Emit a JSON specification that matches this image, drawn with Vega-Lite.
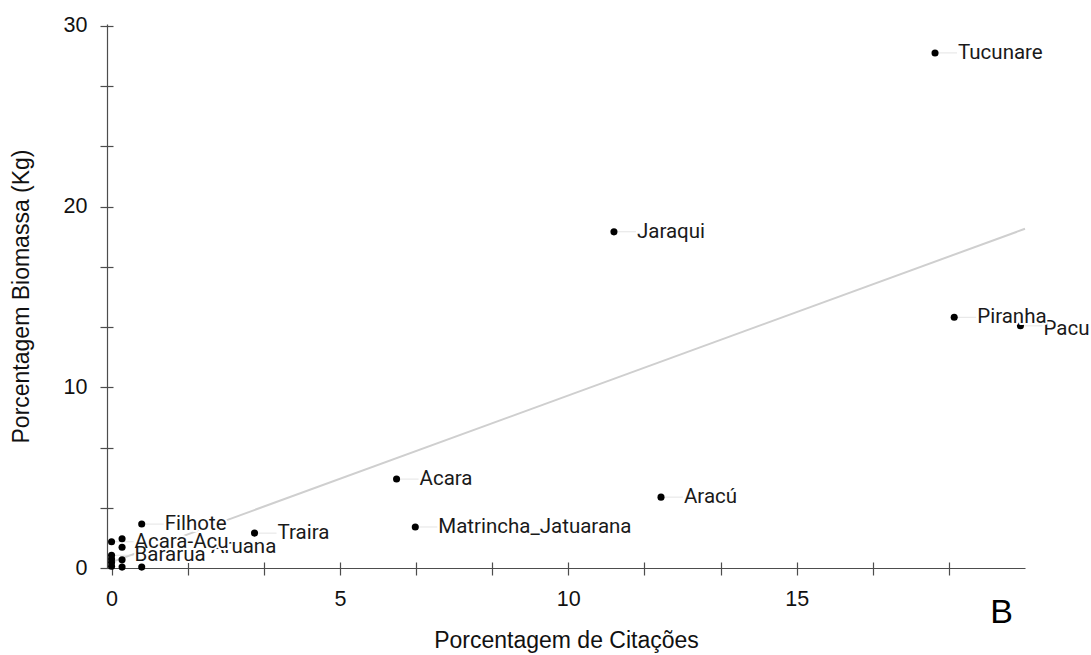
{
  "$schema": "https://vega.github.io/schema/vega-lite/v6.json",
  "width": 918,
  "height": 544,
  "autosize": "none",
  "padding": {"left": 107, "top": 24, "right": 66, "bottom": 87},
  "background": "white",
  "config": {
    "view": {"stroke": null},
    "axis": {
      "domainColor": "#4d4d4d",
      "domainWidth": 1.2,
      "tickColor": "#4d4d4d",
      "tickWidth": 1.2,
      "labelFont": "Liberation Sans",
      "labelFontSize": 21.5,
      "labelColor": "#111",
      "titleFont": "Liberation Sans",
      "titleFontSize": 23,
      "titleFontWeight": "normal",
      "titleColor": "#111",
      "grid": false
    }
  },
  "data": {
    "values": [
      {"nome": "Tucunare", "cit": 18.03, "bio": 28.5},
      {"nome": "Jaraqui", "cit": 11.0, "bio": 18.6},
      {"nome": "Piranha", "cit": 18.45, "bio": 13.87},
      {"nome": "Pacu", "cit": 19.9, "bio": 13.4},
      {"nome": "Acara", "cit": 6.24, "bio": 4.92},
      {"nome": "Aracú", "cit": 12.03, "bio": 3.92},
      {"nome": "Matrincha_Jatuarana", "cit": 6.65, "bio": 2.27},
      {"nome": "Traira", "cit": 3.13, "bio": 1.93},
      {"nome": "Filhote", "cit": 0.66, "bio": 2.43},
      {"nome": "", "cit": 0.23, "bio": 1.62},
      {"nome": "Acara-Acu", "cit": 0.0, "bio": 1.45},
      {"nome": "Aruana", "cit": 0.23, "bio": 1.15},
      {"nome": "Bararua", "cit": 0.0, "bio": 0.7},
      {"nome": "", "cit": 0.0, "bio": 0.5},
      {"nome": "", "cit": 0.0, "bio": 0.3},
      {"nome": "", "cit": 0.0, "bio": 0.1},
      {"nome": "", "cit": 0.23, "bio": 0.45},
      {"nome": "", "cit": 0.23, "bio": 0.05},
      {"nome": "", "cit": 0.66, "bio": 0.05}
    ]
  },
  "resolve": {"axis": {"x": "independent", "y": "independent"}},
  "layer": [
    {
      "transform": [{"regression": "bio", "on": "cit", "extent": [0, 20]}],
      "mark": {"type": "line", "color": "#cfcfcf", "strokeWidth": 2},
      "encoding": {
        "x": {"field": "cit", "type": "quantitative", "scale": {"domain": [-0.1, 20], "nice": false, "zero": false}, "axis": null},
        "y": {"field": "bio", "type": "quantitative", "scale": {"domain": [0, 30.1], "nice": false, "zero": false}, "axis": null}
      }
    },
    {
      "transform": [{"filter": "datum.nome != '' && datum.nome != 'Aruana'"}],
      "mark": {"type": "tick", "orient": "horizontal", "size": 20, "thickness": 1, "xOffset": 12, "color": "#d9d9d9"},
      "encoding": {
        "x": {"field": "cit", "type": "quantitative",
          "axis": {"orient": "bottom", "tickSize": -6, "labels": false, "domain": false, "title": null,
            "values": [0, 1.6667, 3.3333, 5, 6.6667, 8.3333, 10, 11.6667, 13.3333, 15, 16.6667, 18.3333]}},
        "y": {"field": "bio", "type": "quantitative",
          "axis": {"orient": "left", "tickSize": -6, "labels": false, "domain": false, "title": null,
            "values": [0, 3.3333, 6.6667, 10, 13.3333, 16.6667, 20, 23.3333, 26.6667, 30]}}
      }
    },
    {
      "mark": {"type": "circle", "size": 50, "color": "#000", "opacity": 1},
      "encoding": {
        "x": {"field": "cit", "type": "quantitative",
          "axis": {"orient": "bottom", "tickSize": 7, "labelPadding": 13, "title": "Porcentagem de Citações", "titlePadding": 20,
            "values": [0, 1.6667, 3.3333, 5, 6.6667, 8.3333, 10, 11.6667, 13.3333, 15, 16.6667, 18.3333],
            "labelExpr": "abs(datum.value % 5) < 0.01 ? datum.label : ''"}},
        "y": {"field": "bio", "type": "quantitative",
          "axis": {"orient": "left", "tickSize": 7, "labelPadding": 13, "title": "Porcentagem Biomassa (Kg)", "titlePadding": 30,
            "values": [0, 3.3333, 6.6667, 10, 13.3333, 16.6667, 20, 23.3333, 26.6667, 30],
            "labelExpr": "abs(datum.value % 10) < 0.01 ? datum.label : ''"}}
      }
    },
    {
      "transform": [{"filter": "datum.nome == 'Pacu'"}],
      "mark": {"type": "text", "align": "left", "baseline": "middle", "dx": 23, "dy": 3, "font": "Roboto", "fontSize": 20.5, "color": "#1a1a1a"},
      "encoding": {
        "x": {"field": "cit", "type": "quantitative", "axis": null},
        "y": {"field": "bio", "type": "quantitative", "axis": null},
        "text": {"field": "nome"}
      }
    },
    {
      "transform": [{"filter": "datum.nome == 'Aruana'"}],
      "mark": {"type": "text", "align": "left", "baseline": "middle", "dx": 89, "font": "Roboto", "fontSize": 20.5, "color": "#1a1a1a"},
      "encoding": {
        "x": {"field": "cit", "type": "quantitative", "axis": null},
        "y": {"field": "bio", "type": "quantitative", "axis": null},
        "text": {"field": "nome"}
      }
    },
    {
      "transform": [{"filter": "datum.nome != '' && datum.nome != 'Aruana' && datum.nome != 'Pacu'"}],
      "mark": {"type": "text", "align": "left", "baseline": "middle", "dx": 23, "font": "Roboto", "fontSize": 20.5, "color": "white", "stroke": "white", "strokeWidth": 4, "strokeJoin": "round"},
      "encoding": {
        "x": {"field": "cit", "type": "quantitative", "axis": null},
        "y": {"field": "bio", "type": "quantitative", "axis": null},
        "text": {"field": "nome"}
      }
    },
    {
      "transform": [{"filter": "datum.nome != '' && datum.nome != 'Aruana' && datum.nome != 'Pacu'"}],
      "mark": {"type": "text", "align": "left", "baseline": "middle", "dx": 23, "font": "Roboto", "fontSize": 20.5, "color": "#1a1a1a"},
      "encoding": {
        "x": {"field": "cit", "type": "quantitative", "axis": null},
        "y": {"field": "bio", "type": "quantitative", "axis": null},
        "text": {"field": "nome"}
      }
    },
    {
      "data": {"values": [{"painel": "B"}]},
      "mark": {"type": "text", "align": "center", "baseline": "middle", "font": "Liberation Sans", "fontSize": 34, "fontWeight": "normal", "color": "#000"},
      "encoding": {
        "x": {"datum": 19.49, "type": "quantitative", "axis": null},
        "y": {"datum": -2.5, "type": "quantitative", "axis": null},
        "text": {"field": "painel"}
      }
    }
  ]
}
